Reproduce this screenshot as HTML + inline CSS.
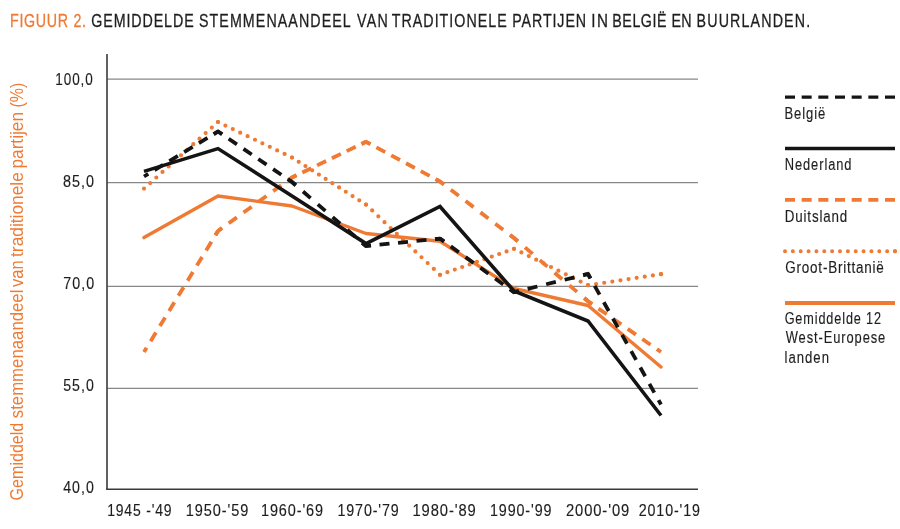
<!DOCTYPE html>
<html><head><meta charset="utf-8">
<style>
html,body{margin:0;padding:0;background:#fff;width:900px;height:529px;overflow:hidden}
svg{display:block;will-change:transform}
text{font-family:"Liberation Sans",sans-serif}
</style></head><body>
<svg width="900" height="529" viewBox="0 0 900 529">
<rect width="900" height="529" fill="#fff"/>
<text transform="translate(10.03,27.2) scale(0.75,1)" x="0" y="0" font-size="19" fill="#ef7a33" stroke="#ef7a33" stroke-width="0.3" textLength="101.28" lengthAdjust="spacing">FIGUUR 2.</text>
<text transform="translate(91.26,27.2) scale(0.75,1)" x="0" y="0" font-size="19" fill="#1e1e1e" stroke="#1e1e1e" stroke-width="0.3" textLength="136.51" lengthAdjust="spacing">GEMIDDELDE</text>
<text transform="translate(198.98,27.2) scale(0.75,1)" x="0" y="0" font-size="19" fill="#1e1e1e" stroke="#1e1e1e" stroke-width="0.3" textLength="202.33" lengthAdjust="spacing">STEMMENAANDEEL</text>
<text transform="translate(356.95,27.2) scale(0.75,1)" x="0" y="0" font-size="19" fill="#1e1e1e" stroke="#1e1e1e" stroke-width="0.3" textLength="41.14" lengthAdjust="spacing">VAN</text>
<text transform="translate(391.77,27.2) scale(0.75,1)" x="0" y="0" font-size="19" fill="#1e1e1e" stroke="#1e1e1e" stroke-width="0.3" textLength="153.28" lengthAdjust="spacing">TRADITIONELE</text>
<text transform="translate(512.24,27.2) scale(0.75,1)" x="0" y="0" font-size="19" fill="#1e1e1e" stroke="#1e1e1e" stroke-width="0.3" textLength="98.45" lengthAdjust="spacing">PARTIJEN</text>
<text transform="translate(591.19,27.2) scale(0.8,1)" x="0" y="0" font-size="19" fill="#1e1e1e" stroke="#1e1e1e" stroke-width="0.3" textLength="20.91" lengthAdjust="spacing">IN</text>
<text transform="translate(612.36,27.2) scale(0.75,1)" x="0" y="0" font-size="19" fill="#1e1e1e" stroke="#1e1e1e" stroke-width="0.3" textLength="72.10" lengthAdjust="spacing">BELGIË</text>
<text transform="translate(671.45,27.2) scale(0.75,1)" x="0" y="0" font-size="19" fill="#1e1e1e" stroke="#1e1e1e" stroke-width="0.3" textLength="26.88" lengthAdjust="spacing">EN</text>
<text transform="translate(696.57,27.2) scale(0.75,1)" x="0" y="0" font-size="19" fill="#1e1e1e" stroke="#1e1e1e" stroke-width="0.3" textLength="151.43" lengthAdjust="spacing">BUURLANDEN.</text>
<text transform="translate(107.20,516) scale(0.804170256828661,1)" x="0" y="0" font-size="17.4" fill="#1e1e1e" stroke="#1e1e1e" stroke-width="0.15" textLength="79.98" lengthAdjust="spacing">1945 -'49</text>
<text transform="translate(185.87,516) scale(0.835954748269777,1)" x="0" y="0" font-size="17.4" fill="#1e1e1e" stroke="#1e1e1e" stroke-width="0.15" textLength="74.62" lengthAdjust="spacing">1950-'59</text>
<text transform="translate(260.95,516) scale(0.8332620884123526,1)" x="0" y="0" font-size="17.4" fill="#1e1e1e" stroke="#1e1e1e" stroke-width="0.15" textLength="74.62" lengthAdjust="spacing">1960-'69</text>
<text transform="translate(337.46,516) scale(0.8205617989252582,1)" x="0" y="0" font-size="17.4" fill="#1e1e1e" stroke="#1e1e1e" stroke-width="0.15" textLength="74.62" lengthAdjust="spacing">1970-'79</text>
<text transform="translate(412.44,516) scale(0.8489674764773582,1)" x="0" y="0" font-size="17.4" fill="#1e1e1e" stroke="#1e1e1e" stroke-width="0.15" textLength="74.62" lengthAdjust="spacing">1980-'89</text>
<text transform="translate(490.02,516) scale(0.8231648186206091,1)" x="0" y="0" font-size="17.4" fill="#1e1e1e" stroke="#1e1e1e" stroke-width="0.15" textLength="74.62" lengthAdjust="spacing">1990-'99</text>
<text transform="translate(565.91,516) scale(0.848647948063775,1)" x="0" y="0" font-size="17.4" fill="#1e1e1e" stroke="#1e1e1e" stroke-width="0.15" textLength="74.62" lengthAdjust="spacing">2000-'09</text>
<text transform="translate(638.74,516) scale(0.8205617989252585,1)" x="0" y="0" font-size="17.4" fill="#1e1e1e" stroke="#1e1e1e" stroke-width="0.15" textLength="74.62" lengthAdjust="spacing">2010-'19</text>
<text transform="translate(784.56,118.9) scale(0.7479196087274204,1)" x="0" y="0" font-size="17.4" fill="#1e1e1e" stroke="#1e1e1e" stroke-width="0.15" textLength="54.32" lengthAdjust="spacing">België</text>
<text transform="translate(784.74,169.7) scale(0.7406752379594786,1)" x="0" y="0" font-size="17.4" fill="#1e1e1e" stroke="#1e1e1e" stroke-width="0.15" textLength="90.17" lengthAdjust="spacing">Nederland</text>
<text transform="translate(784.74,221.6) scale(0.7675184213781748,1)" x="0" y="0" font-size="17.4" fill="#1e1e1e" stroke="#1e1e1e" stroke-width="0.15" textLength="81.48" lengthAdjust="spacing">Duitsland</text>
<text transform="translate(785.35,272.8) scale(0.7743375326764903,1)" x="0" y="0" font-size="17.4" fill="#1e1e1e" stroke="#1e1e1e" stroke-width="0.15" textLength="127.07" lengthAdjust="spacing">Groot-Brittanië</text>
<text transform="translate(784.64,323.7) scale(0.7279037286328159,1)" x="0" y="0" font-size="17.4" fill="#1e1e1e" stroke="#1e1e1e" stroke-width="0.15" textLength="132.53" lengthAdjust="spacing">Gemiddelde 12</text>
<text transform="translate(785.70,342.8) scale(0.7414552659783034,1)" x="0" y="0" font-size="17.4" fill="#1e1e1e" stroke="#1e1e1e" stroke-width="0.15" textLength="134.32" lengthAdjust="spacing">West-Europese</text>
<text transform="translate(784.59,362.6) scale(0.7562001086180764,1)" x="0" y="0" font-size="17.4" fill="#1e1e1e" stroke="#1e1e1e" stroke-width="0.15" textLength="58.69" lengthAdjust="spacing">landen</text>
<text transform="translate(55.27,84.9) scale(0.7759462441215941,1)" x="0" y="0" font-size="17.4" fill="#1e1e1e" stroke="#1e1e1e" stroke-width="0.15" textLength="48.37" lengthAdjust="spacing">100,0</text>
<text transform="translate(62.92,187) scale(0.8269983378531257,1)" x="0" y="0" font-size="17.4" fill="#1e1e1e" stroke="#1e1e1e" stroke-width="0.15" textLength="37.62" lengthAdjust="spacing">85,0</text>
<text transform="translate(63.19,289) scale(0.821785247657443,1)" x="0" y="0" font-size="17.4" fill="#1e1e1e" stroke="#1e1e1e" stroke-width="0.15" textLength="37.62" lengthAdjust="spacing">70,0</text>
<text transform="translate(63.20,391.2) scale(0.813364097831103,1)" x="0" y="0" font-size="17.4" fill="#1e1e1e" stroke="#1e1e1e" stroke-width="0.15" textLength="37.62" lengthAdjust="spacing">55,0</text>
<text transform="translate(63.13,493) scale(0.8153018317433112,1)" x="0" y="0" font-size="17.4" fill="#1e1e1e" stroke="#1e1e1e" stroke-width="0.15" textLength="37.62" lengthAdjust="spacing">40,0</text>
<text transform="translate(23.3,500.40) rotate(-90)" x="0" y="0" font-size="18.6" fill="#ef7a33" textLength="77.65" lengthAdjust="spacingAndGlyphs">Gemiddeld</text>
<text transform="translate(23.3,418.22) rotate(-90)" x="0" y="0" font-size="18.6" fill="#ef7a33" textLength="128.64" lengthAdjust="spacingAndGlyphs">stemmenaandeel</text>
<text transform="translate(23.3,287.03) rotate(-90)" x="0" y="0" font-size="18.6" fill="#ef7a33" textLength="26.59" lengthAdjust="spacingAndGlyphs">van</text>
<text transform="translate(23.3,256.95) rotate(-90)" x="0" y="0" font-size="18.6" fill="#ef7a33" textLength="84.80" lengthAdjust="spacingAndGlyphs">traditionele</text>
<text transform="translate(23.3,168.53) rotate(-90)" x="0" y="0" font-size="18.6" fill="#ef7a33" textLength="56.51" lengthAdjust="spacingAndGlyphs">partijen</text>
<text transform="translate(23.3,107.56) rotate(-90)" x="0" y="0" font-size="18.6" fill="#ef7a33" textLength="24.80" lengthAdjust="spacingAndGlyphs">(%)</text>
<g stroke="#888888" stroke-width="1.25">
<line x1="107" y1="79" x2="698" y2="79"/>
<line x1="107" y1="182.5" x2="698" y2="182.5"/>
<line x1="107" y1="286.3" x2="698" y2="286.3"/>
<line x1="107" y1="388.4" x2="698" y2="388.4"/>
</g>
<line x1="107" y1="54" x2="107" y2="490" stroke="#3a3a3a" stroke-width="1.6"/>
<line x1="106.2" y1="489.3" x2="698" y2="489.3" stroke="#3a3a3a" stroke-width="1.6"/>


<g fill="none">
<polyline stroke="#ef7a33" stroke-width="3.4" stroke-linecap="round" stroke-linejoin="round" points="144,237.6 218,196 292,206 366,233.5 440,241.2 514,288.5 588,305.5 661,367"/>
<line x1="144" y1="352" x2="218" y2="231" stroke="#ef7a33" stroke-width="3.8" stroke-dasharray="10.0 7.729" stroke-dashoffset="5.0"/>
<line x1="218" y1="231" x2="292" y2="177.5" stroke="#ef7a33" stroke-width="3.8" stroke-dasharray="10.0 8.263" stroke-dashoffset="5.0"/>
<line x1="292" y1="177.5" x2="366" y2="141.8" stroke="#ef7a33" stroke-width="3.8" stroke-dasharray="10.0 6.432" stroke-dashoffset="5.0"/>
<line x1="366" y1="141.8" x2="440" y2="181.5" stroke="#ef7a33" stroke-width="3.8" stroke-dasharray="10.0 6.795" stroke-dashoffset="5.0"/>
<line x1="440" y1="181.5" x2="514" y2="238" stroke="#ef7a33" stroke-width="3.8" stroke-dasharray="10.0 8.621" stroke-dashoffset="5.0"/>
<line x1="514" y1="238" x2="588" y2="301.3" stroke="#ef7a33" stroke-width="3.8" stroke-dasharray="10.0 9.476" stroke-dashoffset="5.0"/>
<line x1="588" y1="301.3" x2="661" y2="352" stroke="#ef7a33" stroke-width="3.8" stroke-dasharray="10.0 7.776" stroke-dashoffset="5.0"/>
<polyline points="215.39,235.27 218,231 222.05,228.07" fill="none" stroke="#ef7a33" stroke-width="3.8" stroke-linejoin="miter"/>
<polyline points="287.95,180.43 292,177.5 296.50,175.33" fill="none" stroke="#ef7a33" stroke-width="3.8" stroke-linejoin="miter"/>
<polyline points="361.50,143.97 366,141.8 370.41,144.16" fill="none" stroke="#ef7a33" stroke-width="3.8" stroke-linejoin="miter"/>
<polyline points="435.59,179.14 440,181.5 443.97,184.53" fill="none" stroke="#ef7a33" stroke-width="3.8" stroke-linejoin="miter"/>
<polyline points="510.03,234.97 514,238 517.80,241.25" fill="none" stroke="#ef7a33" stroke-width="3.8" stroke-linejoin="miter"/>
<polyline points="584.20,298.05 588,301.3 592.11,304.15" fill="none" stroke="#ef7a33" stroke-width="3.8" stroke-linejoin="miter"/>
<line x1="144" y1="188.6" x2="218" y2="122" stroke="#ef7a33" stroke-width="4.2" stroke-dasharray="0 8.295" stroke-linecap="round"/>
<line x1="218" y1="122" x2="292" y2="157.5" stroke="#ef7a33" stroke-width="4.2" stroke-dasharray="0 8.206" stroke-linecap="round"/>
<line x1="292" y1="157.5" x2="366" y2="204.6" stroke="#ef7a33" stroke-width="4.2" stroke-dasharray="0 7.973" stroke-linecap="round"/>
<line x1="366" y1="204.6" x2="440" y2="274.8" stroke="#ef7a33" stroke-width="4.2" stroke-dasharray="0 8.499" stroke-linecap="round"/>
<line x1="440" y1="274.8" x2="514" y2="248.8" stroke="#ef7a33" stroke-width="4.2" stroke-dasharray="0 7.842" stroke-linecap="round"/>
<line x1="514" y1="248.8" x2="588" y2="285.2" stroke="#ef7a33" stroke-width="4.2" stroke-dasharray="0 8.246" stroke-linecap="round"/>
<line x1="588" y1="285.2" x2="661" y2="274.2" stroke="#ef7a33" stroke-width="4.2" stroke-dasharray="0 8.202" stroke-linecap="round"/>
<circle cx="661" cy="274.2" r="2.1" fill="#ef7a33"/>
<polyline stroke="#141414" stroke-width="3.6" stroke-linejoin="miter" points="144,171.4 218,148.6 292,196 366,243.6 440,206.5 514,291 588,321 661,415.5"/>
<line x1="144" y1="176.5" x2="218" y2="131.5" stroke="#141414" stroke-width="3.75" stroke-dasharray="10.0 7.322" stroke-dashoffset="5.0"/>
<line x1="218" y1="131.5" x2="292" y2="182" stroke="#141414" stroke-width="3.75" stroke-dasharray="10.0 7.918" stroke-dashoffset="5.0"/>
<line x1="292" y1="182" x2="366" y2="246" stroke="#141414" stroke-width="3.75" stroke-dasharray="10.0 9.567" stroke-dashoffset="5.0"/>
<line x1="366" y1="246" x2="440" y2="238.6" stroke="#141414" stroke-width="3.75" stroke-dasharray="10.0 8.592" stroke-dashoffset="5.0"/>
<line x1="440" y1="238.6" x2="514" y2="292.2" stroke="#141414" stroke-width="3.75" stroke-dasharray="10.0 8.275" stroke-dashoffset="5.0"/>
<line x1="514" y1="292.2" x2="588" y2="274" stroke="#141414" stroke-width="3.75" stroke-dasharray="10.0 9.051" stroke-dashoffset="5.0"/>
<line x1="588" y1="274" x2="661" y2="404.5" stroke="#141414" stroke-width="3.75" stroke-dasharray="10.0 8.691" stroke-dashoffset="5.0"/>
<polyline points="213.73,134.10 218,131.5 222.13,134.32" fill="none" stroke="#141414" stroke-width="3.75" stroke-linejoin="miter"/>
<polyline points="287.87,179.18 292,182 295.78,185.27" fill="none" stroke="#141414" stroke-width="3.75" stroke-linejoin="miter"/>
<polyline points="362.22,242.73 366,246 370.98,245.50" fill="none" stroke="#141414" stroke-width="3.75" stroke-linejoin="miter"/>
<polyline points="435.02,239.10 440,238.6 444.05,241.53" fill="none" stroke="#141414" stroke-width="3.75" stroke-linejoin="miter"/>
<polyline points="509.95,289.27 514,292.2 518.86,291.01" fill="none" stroke="#141414" stroke-width="3.75" stroke-linejoin="miter"/>
<polyline points="583.14,275.19 588,274 590.44,278.36" fill="none" stroke="#141414" stroke-width="3.75" stroke-linejoin="miter"/>
</g>
<line x1="785" y1="97.2" x2="895" y2="97.2" stroke="#141414" stroke-width="3.3" stroke-dasharray="10 6.667"/>
<line x1="785" y1="148.5" x2="895" y2="148.5" stroke="#141414" stroke-width="3.4"/>
<line x1="785" y1="199.8" x2="895" y2="199.8" stroke="#ef7a33" stroke-width="3.8" stroke-dasharray="10 6.667"/>
<line x1="785" y1="251.3" x2="895" y2="251.3" stroke="#ef7a33" stroke-width="4" stroke-dasharray="0 7.857" stroke-linecap="round"/>
<circle cx="895" cy="251.3" r="2" fill="#ef7a33"/>
<line x1="785" y1="303" x2="895" y2="303" stroke="#ef7a33" stroke-width="4"/>

</svg>
</body></html>
